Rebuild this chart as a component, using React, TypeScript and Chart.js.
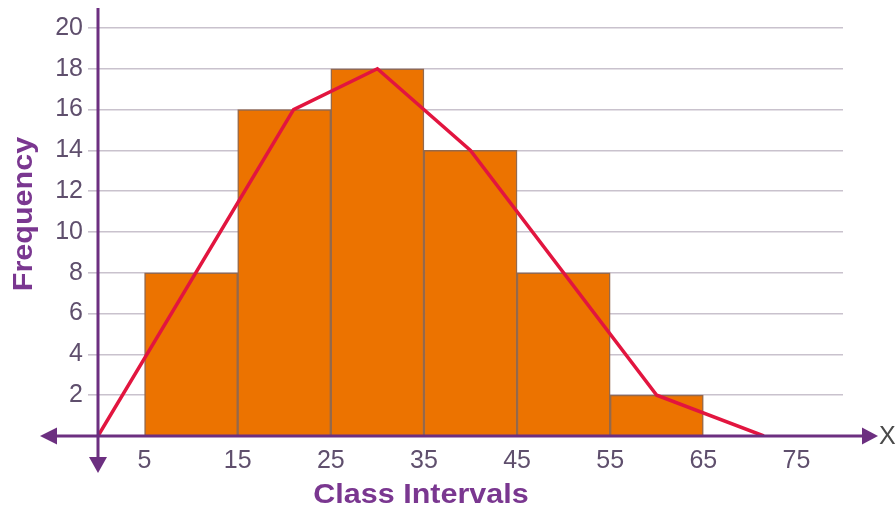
import { useEffect, useRef } from 'react';
import { Chart, registerables } from 'chart.js';

Chart.register(...registerables);

// ---- data ----
const classMidpoints = [10, 20, 30, 40, 50, 60];
const frequencies = [8, 16, 18, 14, 8, 2];
const polygonX = [0, 21, 30, 40, 60, 71.5];
const polygonY = [0, 16, 18, 14, 2, 0];
const xTickValues = [5, 15, 25, 35, 45, 55, 65, 75];
const yTickValues = [2, 4, 6, 8, 10, 12, 14, 16, 18, 20];
const xTitle = 'Class Intervals';
const yTitle = 'Frequency';
const axisEndLabel = 'X';

// ---- styles ----
const BAR_COLOR = '#ec7300';
const BAR_BORDER = '#94694c';
const LINE_COLOR = '#e2153f';
const AXIS_COLOR = '#6c2f80';
const TITLE_COLOR = '#7a3790';
const TICK_COLOR = '#5f4f6d';
const GRID_COLOR = '#c9c2cd';
const FONT = '"Liberation Sans", Arial, sans-serif';

const arrowAxesPlugin = {
  id: 'arrowAxes',
  afterDatasetsDraw(chart: any) {
    const { ctx } = chart;
    const xs = chart.scales.x;
    const ys = chart.scales.y;
    const x0 = xs.getPixelForValue(0);
    const y0 = ys.getPixelForValue(0);
    ctx.save();
    ctx.strokeStyle = AXIS_COLOR;
    ctx.fillStyle = AXIS_COLOR;
    ctx.lineWidth = 3;
    // horizontal axis
    const xl = xs.left - 58;
    const xr = xs.right + 35;
    ctx.beginPath();
    ctx.moveTo(xl + 10, y0);
    ctx.lineTo(xr - 10, y0);
    ctx.stroke();
    ctx.beginPath();
    ctx.moveTo(xl, y0);
    ctx.lineTo(xl + 17, y0 - 8.5);
    ctx.lineTo(xl + 17, y0 + 8.5);
    ctx.closePath();
    ctx.fill();
    ctx.beginPath();
    ctx.moveTo(xr, y0);
    ctx.lineTo(xr - 16, y0 - 8.5);
    ctx.lineTo(xr - 16, y0 + 8.5);
    ctx.closePath();
    ctx.fill();
    // vertical axis
    const yt = ys.top - 20;
    const yb = y0 + 37;
    ctx.beginPath();
    ctx.moveTo(x0, yt);
    ctx.lineTo(x0, yb - 10);
    ctx.stroke();
    ctx.beginPath();
    ctx.moveTo(x0, yb);
    ctx.lineTo(x0 - 9, yb - 16);
    ctx.lineTo(x0 + 9, yb - 16);
    ctx.closePath();
    ctx.fill();
    // X label
    ctx.fillStyle = '#4a4a4a';
    ctx.font = `25px ${FONT}`;
    ctx.textAlign = 'left';
    ctx.textBaseline = 'middle';
    ctx.fillText(axisEndLabel, xr + 1, y0 + 1);
    ctx.restore();
  },
  afterDraw(chart: any) {
    const { ctx } = chart;
    ctx.save();
    ctx.fillStyle = TITLE_COLOR;
    ctx.font = `bold 27px ${FONT}`;
    ctx.textAlign = 'center';
    ctx.textBaseline = 'alphabetic';
    // x title
    ctx.save();
    ctx.translate(421, 503);
    ctx.scale(1.13, 1);
    ctx.fillText(xTitle, 0, 0);
    ctx.restore();
    // y title
    ctx.save();
    ctx.translate(32, 214);
    ctx.rotate(-Math.PI / 2);
    ctx.scale(1.13, 1);
    ctx.fillText(yTitle, 0, 0);
    ctx.restore();
    ctx.restore();
  },
};

export default function App() {
  const canvasRef = useRef<HTMLCanvasElement | null>(null);

  useEffect(() => {
    const canvas = canvasRef.current;
    if (!canvas) return;
    const chart = new Chart(canvas, {
      type: 'bar',
      data: {
        datasets: [
          {
            type: 'line',
            label: 'Frequency polygon',
            data: polygonX.map((x, i) => ({ x, y: polygonY[i] })),
            borderColor: LINE_COLOR,
            borderWidth: 3.5,
            pointRadius: 0,
            tension: 0,
            fill: false,
            order: 0,
          } as any,
          {
            type: 'bar',
            label: 'Frequency',
            data: classMidpoints.map((x, i) => ({ x, y: frequencies[i] })),
            backgroundColor: BAR_COLOR,
            borderColor: BAR_BORDER,
            borderWidth: 1.5,
            barPercentage: 1,
            categoryPercentage: 1,
            order: 1,
          } as any,
        ],
      },
      options: {
        responsive: false,
        animation: false,
        events: [],
        layout: { padding: { left: 0, right: 53, top: 28, bottom: 0 } },
        plugins: { legend: { display: false }, tooltip: { enabled: false } },
        scales: {
          x: {
            type: 'linear',
            min: 0,
            max: 80,
            offset: false,
            grid: { display: false },
            border: { display: false },
            afterBuildTicks: (scale: any) => {
              scale.ticks = xTickValues.map((v) => ({ value: v }));
            },
            afterFit: (scale: any) => {
              scale.height = 72;
            },
            ticks: {
              color: TICK_COLOR,
              font: { family: FONT, size: 25 },
              padding: 2,
              maxRotation: 0,
              autoSkip: false,
            },
          },
          y: {
            type: 'linear',
            min: 0,
            max: 20,
            grid: {
              color: GRID_COLOR,
              lineWidth: 1.6,
              drawTicks: true,
              tickLength: 10,
            },
            border: { display: false },
            afterBuildTicks: (scale: any) => {
              scale.ticks = yTickValues.map((v) => ({ value: v }));
            },
            afterFit: (scale: any) => {
              scale.width = 98;
            },
            ticks: {
              color: TICK_COLOR,
              font: { family: FONT, size: 25 },
              padding: 5,
              autoSkip: false,
            },
          },
        },
      },
      plugins: [arrowAxesPlugin],
    });
    return () => chart.destroy();
  }, []);

  return (
    <div style={{ position: 'absolute', left: 0, top: 0, width: 896, height: 508, background: '#fff' }}>
      <canvas ref={canvasRef} width={896} height={508} style={{ display: 'block' }} />
    </div>
  );
}
